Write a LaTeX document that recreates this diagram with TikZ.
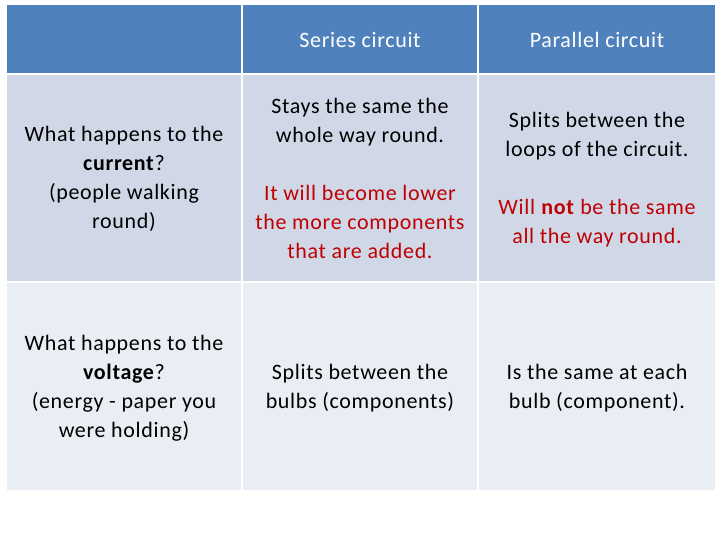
\documentclass[tikz,border=0pt]{standalone}
\usepackage{fontspec}
\setmainfont{Carlito}[LetterSpace=3]
\definecolor{hdr}{HTML}{4F81BD}
\definecolor{rowa}{HTML}{D0D8E8}
\definecolor{rowb}{HTML}{E9EDF4}
\definecolor{redt}{HTML}{C00000}
\tikzset{cellbox/.style={draw=white,line width=2pt},
 txt/.style={align=center,font=\fontsize{22}{29}\selectfont,text=black,inner sep=0pt},
 htxt/.style={align=center,font=\fontsize{22}{29}\selectfont,text=white}}
\begin{document}
\begin{tikzpicture}[x=1pt,y=-1pt]
\useasboundingbox (0,0) rectangle (720,540);
\fill[white] (0,0) rectangle (720,540);
\path[cellbox,fill=hdr] (6,4) rectangle (242,74);
\path[cellbox,fill=hdr] (242,4) rectangle (478,74);
\path[cellbox,fill=hdr] (478,4) rectangle (716,74);
\path[cellbox,fill=rowa] (6,74) rectangle (242,282);
\path[cellbox,fill=rowa] (242,74) rectangle (478,282);
\path[cellbox,fill=rowa] (478,74) rectangle (716,282);
\path[cellbox,fill=rowb] (6,282) rectangle (242,491);
\path[cellbox,fill=rowb] (242,282) rectangle (478,491);
\path[cellbox,fill=rowb] (478,282) rectangle (716,491);
\node[htxt] (h1) at (360,40) {Series circuit};
\node[htxt] (h2) at (597,40) {Parallel circuit};
\node[txt] (q1) at (124,179) {What happens to the\\\textbf{current}?\\(people walking\\round)};
\node[txt] (a1) at (360,122) {Stays the same the\\whole way round.};
\node[txt,text=redt] (a2) at (360,222) {It will become lower\\the more components\\that are added.};
\node[txt] (b1) at (597,136) {Splits between the\\loops of the circuit.};
\node[txt,text=redt] (b2) at (597,223) {Will \textbf{not} be the same\\all the way round.};
\node[txt] (q2) at (124,388) {What happens to the\\\textbf{voltage}?\\(energy - paper you\\were holding)};
\node[txt] (c1) at (360,388) {Splits between the\\bulbs (components)};
\node[txt] (c2) at (597,388) {Is the same at each\\bulb (component).};
\end{tikzpicture}
\end{document}
